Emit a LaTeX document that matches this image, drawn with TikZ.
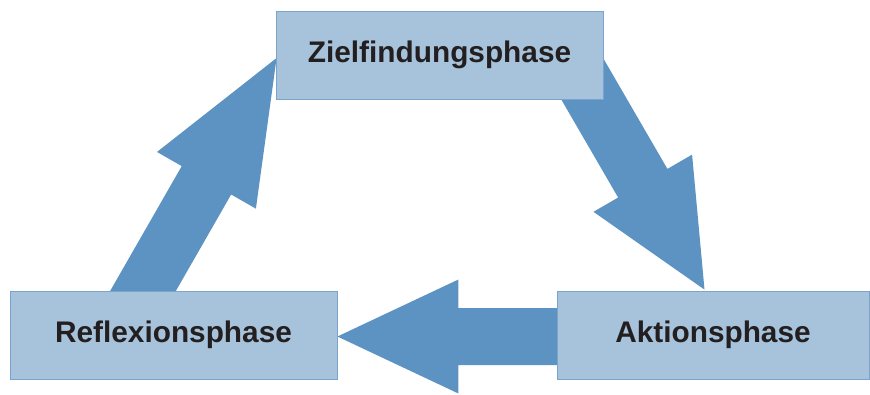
\documentclass[tikz,border=0pt]{standalone}
\usepackage{fontspec}
\setmainfont{Liberation Sans}
\usetikzlibrary{calc,backgrounds}

\definecolor{boxfill}{RGB}{167,195,219}
\definecolor{boxline}{RGB}{122,163,206}
\definecolor{arrowfill}{RGB}{92,147,194}
\definecolor{labeltext}{RGB}{35,31,32}

% block arrow: [head length]{tail}{tip}
\newcommand{\bigarrow}[3][121pt]{%
  \coordinate (hb) at ($(#3)!#1!(#2)$);
  \fill[arrowfill] ($(#2)!28.5pt!90:(#3)$) -- ($(hb)!28.5pt!90:(#3)$) -- ($(hb)!57pt!90:(#3)$) -- (#3)
    -- ($(hb)!57pt!-90:(#3)$) -- ($(hb)!28.5pt!-90:(#3)$) -- ($(#2)!28.5pt!-90:(#3)$) -- cycle;}

\begin{document}
\begin{tikzpicture}[x=1pt,y=-1pt]
      \tikzstyle{phase} = [rectangle, minimum height=88pt, inner sep=0pt, text centered, draw=boxline, line width=0.8pt, fill=boxfill, text=labeltext, font=\fontsize{29.8}{36}\selectfont\bfseries]

      \useasboundingbox (0,0) rectangle (870,394);

      \node (ziel) [phase, minimum width=327pt] at (439.5,55) {Zielfindungsphase};
      \node (refl) [phase, minimum width=327pt] at (173.5,335) {Reflexionsphase};
      \node (akt) [phase, minimum width=312pt] at (713,335) {Aktionsphase};

      \coordinate (reflout) at ($(refl.north)+(-47.5,30)$);
      \coordinate (zielin) at ($(ziel.west)+(1,3)$);
      \coordinate (zielout) at ($(ziel.east)+(-35,0)$);
      \coordinate (aktin) at ($(akt.north)+(-8.5,-1)$);
      \coordinate (aktout) at ($(akt.west)+(10,1.5)$);
      \coordinate (reflin) at ($(refl.east)+(0,1.5)$);

      \begin{scope}[on background layer]
        \bigarrow[141pt]{reflout}{zielin}
        \bigarrow[123pt]{zielout}{aktin}
        \bigarrow[121pt]{aktout}{reflin}
      \end{scope}
   \end{tikzpicture}
\end{document}
